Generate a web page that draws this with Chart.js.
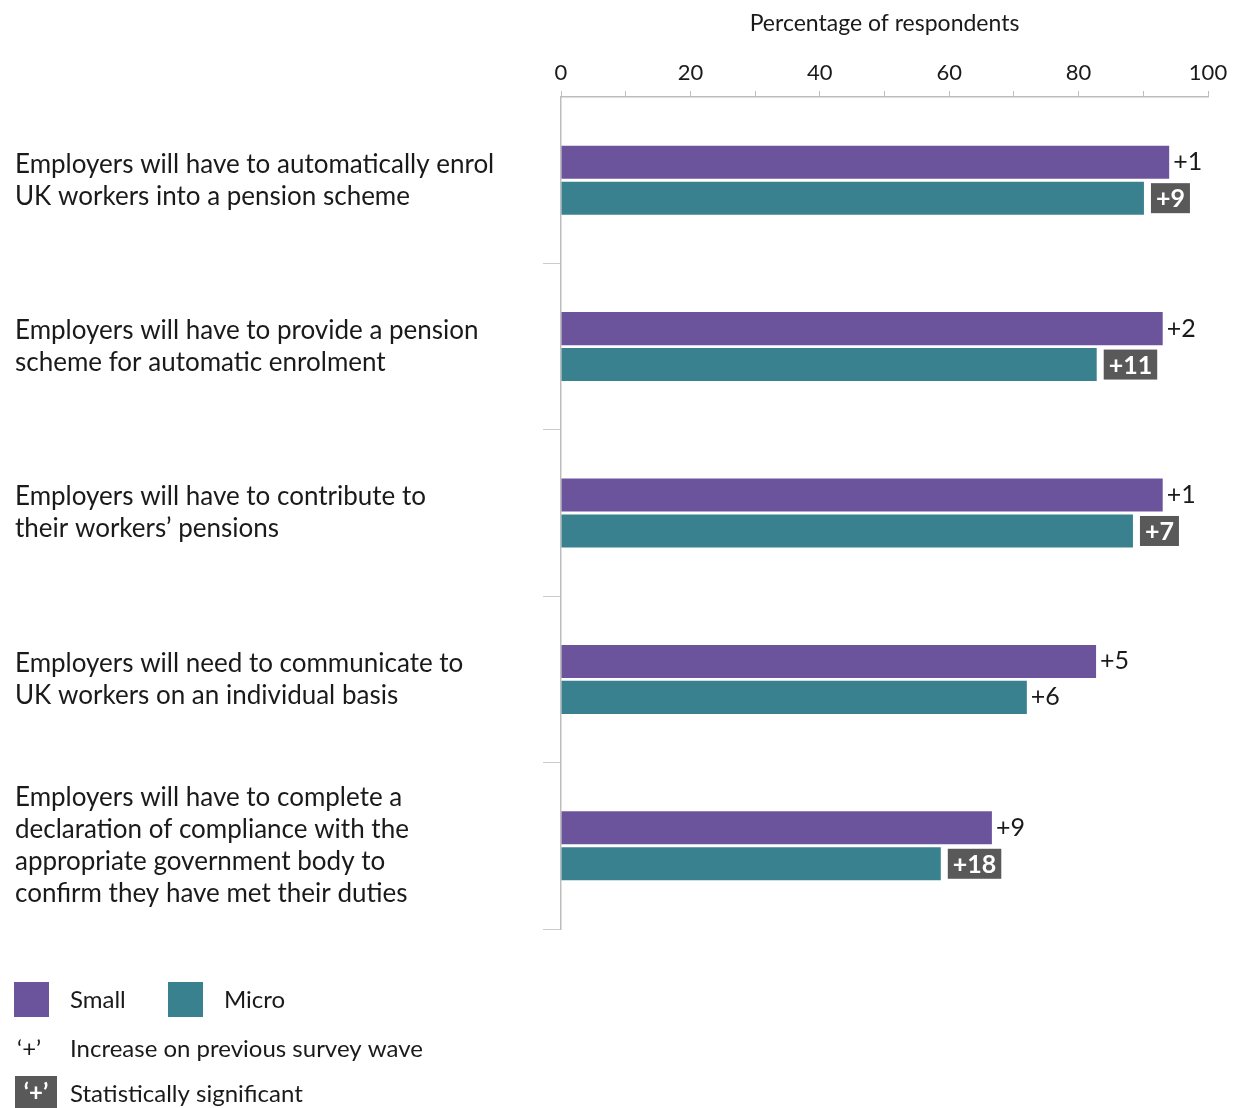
<!DOCTYPE html>
<html>
<head>
<meta charset="utf-8">
<script src="https://cdn.jsdelivr.net/npm/chart.js@4/dist/chart.umd.min.js"></script>
<style>
  body { margin: 0; background: #fff; }
  #wrap { width: 1235px; height: 1108px; }
</style>
</head>
<body>
<div id="wrap"><canvas id="myChart" width="1235" height="1108"></canvas></div>
<script>
const categories = [
  ['Employers will have to automatically enrol', 'UK workers into a pension scheme'],
  ['Employers will have to provide a pension', 'scheme for automatic enrolment'],
  ['Employers will have to contribute to', 'their workers\u2019 pensions'],
  ['Employers will need to communicate to', 'UK workers on an individual basis'],
  ['Employers will have to complete a', 'declaration of compliance with the', 'appropriate government body to', 'confirm they have met their duties']
];
const seriesNames = ['Small', 'Micro'];
const smallValues = [94, 93, 93, 82.7, 66.6];
const microValues = [90.1, 82.8, 88.4, 72, 58.7];
const smallChange = ['+1', '+2', '+1', '+5', '+9'];
const microChange = ['+9', '+11', '+7', '+6', '+18'];
const smallSig = [false, false, false, false, false];
const microSig = [true, true, true, false, true];

var purple = '#6c549d';
var teal = '#3a8190';
var darkGrey = '#595959';
var axisGrey = '#bdbdbd';
var textCol = '#1a1a1a';
var FONT = 'Lato, "Noto Sans", sans-serif';

Chart.defaults.font.family = FONT;
Chart.defaults.color = textCol;

const changeLabels = {
  id: 'changeLabels',
  afterDatasetsDraw(chart) {
    const ctx = chart.ctx;
    const sets = [[smallChange, smallSig], [microChange, microSig]];
    ctx.save();
    chart.data.datasets.forEach(function (ds, di) {
      const meta = chart.getDatasetMeta(di);
      meta.data.forEach(function (bar, i) {
        const txt = sets[di][0][i];
        const sig = sets[di][1][i];
        ctx.textBaseline = 'middle';
        ctx.textAlign = 'left';
        if (sig) {
          ctx.font = 'bold 25px ' + FONT;
          const w = ctx.measureText(txt).width;
          const bx = bar.x + 7;
          ctx.fillStyle = darkGrey;
          ctx.fillRect(bx, bar.y - 15, w + 10, 30);
          ctx.fillStyle = '#fff';
          ctx.fillText(txt, bx + 5, bar.y + 1);
        } else {
          ctx.font = '25px ' + FONT;
          ctx.fillStyle = textCol;
          ctx.fillText(txt, bar.x + 4, bar.y);
        }
      });
    });
    ctx.restore();
  }
};

const customLegend = {
  id: 'customLegend',
  afterDraw(chart) {
    const ctx = chart.ctx;
    ctx.save();
    ctx.textBaseline = 'middle';
    ctx.textAlign = 'left';
    ctx.font = '24px ' + FONT;
    // series swatches
    const swX = [14, 168];
    chart.data.datasets.forEach(function (ds, i) {
      ctx.fillStyle = ds.backgroundColor;
      ctx.fillRect(swX[i], 982, 35, 35);
      ctx.fillStyle = textCol;
      ctx.fillText(seriesNames[i], swX[i] + 56, 1000);
    });
    // increase note
    ctx.fillText('\u2018+\u2019', 17, 1049);
    ctx.fillText('Increase on previous survey wave', 70, 1049);
    // significance note
    ctx.fillStyle = darkGrey;
    ctx.fillRect(15, 1076, 42, 32);
    ctx.fillStyle = '#fff';
    ctx.font = 'bold 24px ' + FONT;
    ctx.textAlign = 'center';
    ctx.fillText('\u2018+\u2019', 36, 1093);
    ctx.fillStyle = textCol;
    ctx.font = '24px ' + FONT;
    ctx.textAlign = 'left';
    ctx.fillText('Statistically significant', 70, 1094);
    ctx.restore();
  }
};

const config = {
  type: 'bar',
  data: {
    labels: categories,
    datasets: [
      {
        label: seriesNames[0],
        data: smallValues,
        backgroundColor: purple,
        categoryPercentage: 0.432,
        barPercentage: 0.92
      },
      {
        label: seriesNames[1],
        data: microValues,
        backgroundColor: teal,
        categoryPercentage: 0.432,
        barPercentage: 0.92
      }
    ]
  },
  plugins: [changeLabels, customLegend],
  options: {
    indexAxis: 'y',
    responsive: false,
    animation: false,
    layout: {
      padding: { left: 15, right: 27, top: 10, bottom: 179 }
    },
    plugins: {
      legend: { display: false },
      tooltip: { enabled: false }
    },
    scales: {
      x: {
        position: 'top',
        min: 0,
        max: 100,
        ticks: {
          stepSize: 10,
          padding: 5,
          color: textCol,
          font: { size: 22 },
          callback: function (v) { return v % 20 === 0 ? v : ''; }
        },
        grid: {
          drawOnChartArea: false,
          tickLength: 6,
          color: axisGrey
        },
        border: { color: axisGrey, width: 1.5 },
        title: {
          display: true,
          text: 'Percentage of respondents',
          color: textCol,
          font: { size: 23 },
          padding: { top: 0, bottom: 17 }
        }
      },
      y: {
        ticks: {
          crossAlign: 'far',
          color: textCol,
          font: { size: 26, lineHeight: 1.23 }
        },
        grid: {
          offset: true,
          drawOnChartArea: false,
          tickLength: 18,
          color: function (c) { return c.index === 0 ? 'rgba(0,0,0,0)' : '#cccccc'; }
        },
        border: { color: axisGrey, width: 1.5 },
        afterFit: function (scale) { scale.width = 546; }
      }
    }
  }
};

var myChart = new Chart(document.getElementById('myChart'), config);
</script>
</body>
</html>
